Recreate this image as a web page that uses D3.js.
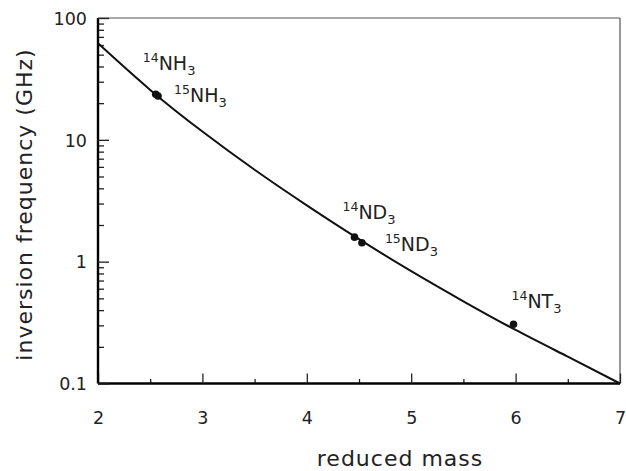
<!DOCTYPE html>
<html><head><meta charset="utf-8">
<script src="https://cdn.jsdelivr.net/npm/d3@7"></script>
<style>body{margin:0;background:#fff}svg{display:block}text{font-family:"DejaVu Sans",Verdana,sans-serif;fill:#222}</style>
</head><body><svg id="c" width="626" height="471"></svg>
<script>
// curve (reduced mass, GHz)
const curveMass = [2, 2.5, 3, 3.5, 4, 4.5, 5, 5.5, 6, 6.5, 7];
const curveFreq = [62, 25.7, 11.7, 5.68, 2.9, 1.53, 0.836, 0.473, 0.275, 0.166, 0.1];
// measured points
const molecules = ["14NH3", "15NH3", "14ND3", "15ND3", "14NT3"];
const molMass = [2.553, 2.575, 4.457, 4.528, 5.98];
const molFreq = [23.7, 22.9, 1.59, 1.43, 0.306];
const xTicks = [2, 3, 4, 5, 6, 7];
const yTicks = [0.1, 1, 10, 100];
const yTickLabels = ["0.1", "1", "10", "100"];

const svg = d3.select("#c");
const L = 98, R = 620, T = 18, B = 383.5;
const x = d3.scaleLinear().domain([2, 7]).range([L, R]);
const y = d3.scaleLog().domain([0.1, 100]).range([B, T]);
const FF = '"DejaVu Sans",Verdana,sans-serif';

// frame (thin top/right)
svg.append("line").attr("x1", L).attr("x2", R).attr("y1", T).attr("y2", T).attr("stroke", "#555").attr("stroke-width", 1.2);
svg.append("line").attr("x1", R).attr("x2", R).attr("y1", T).attr("y2", B).attr("stroke", "#555").attr("stroke-width", 1.2);

// minor ticks
const xMinor = d3.range(2.5, 7, 1);
const yMinor = [];
[0.1, 1, 10].forEach(d => { for (let k = 2; k <= 9; k++) yMinor.push(d * k); });

const gx = svg.append("g").attr("transform", `translate(0,${B})`);
gx.call(d3.axisBottom(x).tickValues(xMinor).tickSize(-4.5).tickFormat(""));
gx.call(g => g.select(".domain").remove());
const gx2 = svg.append("g").attr("transform", `translate(0,${B})`);
gx2.call(d3.axisBottom(x).tickValues(xTicks).tickSize(-10).tickPadding(0).tickFormat(d3.format("d")));
gx2.select(".domain").attr("stroke-width", 2.4).attr("d", `M${L},0H${R}`);
gx2.selectAll(".tick text").attr("y", 40).attr("dy", 0).style("font-size", "17.5px").style("font-family", FF).attr("fill", "#222");

const gy = svg.append("g").attr("transform", `translate(${L},0)`);
gy.call(d3.axisLeft(y).tickValues(yMinor).tickSize(-6).tickFormat(""));
gy.call(g => g.select(".domain").remove());
const gy2 = svg.append("g").attr("transform", `translate(${L},0)`);
gy2.call(d3.axisLeft(y).tickValues(yTicks).tickSize(-11).tickFormat((d, i) => yTickLabels[i]));
gy2.select(".domain").attr("stroke-width", 2.4).attr("d", `M0,${T}V${B}`);
gy2.selectAll(".tick text").attr("x", -11).attr("dy", "0.36em").style("font-size", "17.5px").style("font-family", FF).attr("fill", "#222");
svg.selectAll(".tick line").attr("stroke", "#222").attr("stroke-width", 1.3);

// curve
const pts = curveMass.map((m, i) => [m, curveFreq[i]]);
svg.append("path").datum(pts)
  .attr("d", d3.line().x(d => x(d[0])).y(d => y(d[1])).curve(d3.curveNatural))
  .attr("fill", "none").attr("stroke", "#111").attr("stroke-width", 2);

// dots
svg.selectAll("circle.m").data(molecules).join("circle")
  .attr("cx", (d, i) => x(molMass[i])).attr("cy", (d, i) => y(molFreq[i])).attr("r", 3.8).attr("fill", "#111");

// labels
const off = [[-13, -24], [16, 6], [-12, -18], [23, 8], [-2, -16]];
molecules.forEach((mol, i) => {
  const iso = mol.slice(0, 2), sym = mol.slice(2, -1), sub = mol.slice(-1);
  const t = svg.append("text").attr("x", x(molMass[i]) + off[i][0]).attr("y", y(molFreq[i]) + off[i][1]).style("font-size", "19px");
  t.append("tspan").text(iso).style("font-size", "12.5px").attr("dy", -8);
  t.append("tspan").text(sym).attr("dy", 8);
  t.append("tspan").text(sub).style("font-size", "13px").attr("dy", 5);
});

// titles
svg.append("text").attr("x", 400).attr("y", 465.5).attr("text-anchor", "middle").style("font-size", "22px").style("letter-spacing", "1px").text("reduced mass");
svg.append("text").attr("transform", `translate(32,204.5) rotate(-90)`).attr("text-anchor", "middle").style("font-size", "22px").style("letter-spacing", "1px").text("inversion frequency (GHz)");
</script></body></html>
